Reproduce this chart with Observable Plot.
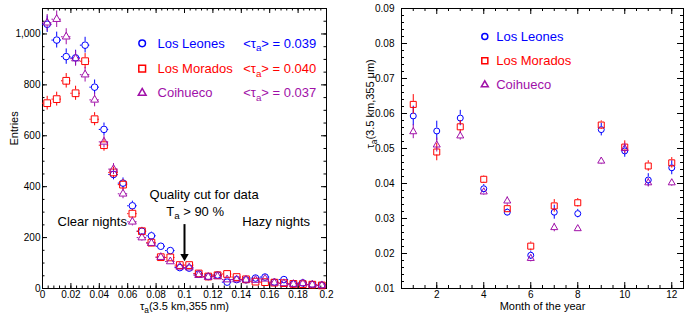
<!DOCTYPE html>
<html><head><meta charset="utf-8">
<script src="https://cdn.jsdelivr.net/npm/d3@7"></script>
<script src="https://cdn.jsdelivr.net/npm/@observablehq/plot@0.6"></script>
<style>
body{margin:0;background:#fff;}
#wrap{position:relative;width:698px;height:320px;overflow:hidden;background:#fff;}
#left,#right{position:absolute;top:0;}
#left{left:0;} #right{left:349px;}
</style></head>
<body><div id="wrap"><div id="left"></div><div id="right"></div></div>
<script>
// ---------- data ----------
const tauBins = [0.0033,0.0100,0.0167,0.0233,0.0300,0.0367,0.0433,0.0500,0.0567,0.0633,
                 0.0700,0.0767,0.0833,0.0900,0.0967,0.1033,0.1100,0.1167,0.1233,0.1300,
                 0.1367,0.1433,0.1500,0.1567,0.1633,0.1700,0.1767,0.1833,0.1900,0.1967];
const binHalfWidth = 0.00333;
const llCounts  = [1038,976,911,906,956,791,625,448,414,325,225,207,166,149,82,80,57,47,53,25,35,34,41,45,25,35,18,22,16,13];
const lmCounts  = [728,744,816,767,893,665,563,456,408,294,225,180,123,122,92,92,59,47,52,57,45,36,27,25,23,21,18,17,15,12];
const coiCounts = [1044,1058,989,903,840,741,576,469,372,262,200,178,123,106,85,82,52,45,47,35,35,34,33,38,22,20,17,20,15,12];

const months = [1,2,3,4,5,6,7,8,9,10,11,12];
const llTau  = [0.0593,0.0550,0.0587,0.0385,0.0318,0.0195,0.0318,0.0314,0.0554,0.0493,0.0410,0.0445];
const lmTau  = [0.0626,0.0490,0.0562,0.0412,0.0328,0.0221,0.0336,0.0345,0.0567,0.0504,0.0450,0.0459];
const coiTau = [0.0548,0.0510,0.0536,0.0376,0.0350,0.0186,0.0274,0.0271,0.0464,0.0500,0.0402,0.0402];
const llErr  = [0.0028,0.0028,0.0022,0.0012,0.0010,0.0012,0.0020,0.0012,0.0018,0.0018,0.0018,0.0020];
const lmErr  = [0.0028,0.0025,0.0018,0.0010,0.0010,0.0012,0.0018,0.0012,0.0012,0.0018,0.0015,0.0015];
const coiErr = [0.0020,0.0020,0.0012,0.0010,0.0012,0.0010,0.0012,0.0008,0.0010,0.0015,0.0012,0.0010];

const seriesNames = ["Los Leones","Los Morados","Coihueco"];
const meanTau = ["0.039","0.040","0.037"];

const xTicksL = [0,0.02,0.04,0.06,0.08,0.1,0.12,0.14,0.16,0.18,0.2];
const yTicksL = [0,200,400,600,800,1000];
const xTicksR = [2,4,6,8,10,12];
const yTicksR = [0.01,0.02,0.03,0.04,0.05,0.06,0.07,0.08,0.09];

// ---------- styles ----------
const FONT = '"Liberation Sans", Arial, Helvetica, sans-serif';
const styles = [
  {color:"#0000ff", symbol:"circle",   r:3.3, gap:3.3, rR:3.0, gapR:3.0},
  {color:"#ff0000", symbol:"square",   r:3.8, gap:3.4, rR:3.4, gapR:3.0},
  {color:"#a010a8", symbol:"triangle", r:2.9, gap:3.0, rR:2.6, gapR:2.8}
];
const countsBySeries = [llCounts, lmCounts, coiCounts];
const tauBySeries = [llTau, lmTau, coiTau];
const errBySeries = [llErr, lmErr, coiErr];

// ---------- left panel ----------
const L = {w:349,h:320,ml:42,mr:23,mt:8,mb:32};
const fwL = L.w-L.ml-L.mr, fhL = L.h-L.mt-L.mb;
const kL = fhL/1100;

const leftMarks = [];
leftMarks.push(Plot.frame({stroke:"#000", strokeWidth:1}));
const xMinL = d3.range(0, 0.2001, 0.004), yMinL = d3.range(0, 1100.1, 50);
leftMarks.push(
  Plot.tickX(xMinL, {x:d=>d, insetTop: fhL-2.5, stroke:"#000"}),
  Plot.tickX(xMinL, {x:d=>d, insetBottom: fhL-2.5, stroke:"#000"}),
  Plot.tickX(xTicksL, {x:d=>d, insetTop: fhL-5, stroke:"#000"}),
  Plot.tickX(xTicksL, {x:d=>d, insetBottom: fhL-5, stroke:"#000"}),
  Plot.tickY(yMinL, {y:d=>d, insetRight: fwL-2.5, stroke:"#000"}),
  Plot.tickY(yMinL, {y:d=>d, insetLeft: fwL-2.5, stroke:"#000"}),
  Plot.tickY(yTicksL, {y:d=>d, insetRight: fwL-5, stroke:"#000"}),
  Plot.tickY(yTicksL, {y:d=>d, insetLeft: fwL-5, stroke:"#000"})
);
styles.forEach((s, si) => {
  const rows = tauBins.map((t,i)=>({t, n: countsBySeries[si][i], e: Math.sqrt(countsBySeries[si][i])}));
  const big = rows.filter(d => d.e*kL > s.gap);
  leftMarks.push(
    Plot.ruleX(big, {x:"t", y1:d=>d.n+d.e, y2:"n", insetBottom:s.gap, stroke:s.color}),
    Plot.ruleX(big, {x:"t", y1:"n", y2:d=>d.n-d.e, insetTop:s.gap, stroke:s.color}),
    Plot.ruleY(rows, {y:"n", x1:d=>d.t-binHalfWidth, x2:"t", insetRight:s.gap, stroke:s.color}),
    Plot.ruleY(rows, {y:"n", x1:"t", x2:d=>d.t+binHalfWidth, insetLeft:s.gap, stroke:s.color}),
    Plot.dot(rows, {x:"t", y:"n", symbol:s.symbol, r:s.r, stroke:s.color, fill:"none", strokeWidth:1})
  );
});
// legend (left)
const legYL = [963, 864, 768];
styles.forEach((s, si) => {
  leftMarks.push(
    Plot.dot([0], {x:()=>0.0702, y:()=>legYL[si], symbol:s.symbol, r:s.r, stroke:s.color, fill:"none"}),
    Plot.text([seriesNames[si]], {x:()=>0.081, y:()=>legYL[si], text:d=>d, fill:s.color, textAnchor:"start", fontSize:13}),
    Plot.text(["<τ_a> = " + meanTau[si]], {x:()=>0.1413, y:()=>legYL[si], text:d=>d, fill:s.color, textAnchor:"start", fontSize:13})
  );
});
// annotations
leftMarks.push(
  Plot.text(["Clear nights"], {x:()=>0.0106, y:()=>263, text:d=>d, textAnchor:"start", fontSize:13, fill:"#000"}),
  Plot.text(["Hazy nights"], {x:()=>0.1406, y:()=>263, text:d=>d, textAnchor:"start", fontSize:13, fill:"#000"}),
  Plot.text(["Quality cut for data"], {x:()=>0.0754, y:()=>369, text:d=>d, textAnchor:"start", fontSize:13, fill:"#000"}),
  Plot.text(["T_a > 90 %"], {x:()=>0.0871, y:()=>303, text:d=>d, textAnchor:"start", fontSize:13, fill:"#000"}),
  Plot.ruleX([0.1], {x:d=>d, y1:()=>251, y2:()=>124, stroke:"#000", strokeWidth:2}),
  Plot.dot([0.1], {x:d=>d, y:()=>126, symbol:"triangle2", r:4, rotate:180, fill:"#000", stroke:"none"}),
  Plot.text(["Entries"], {frameAnchor:"left", dx:-28, dy:-3, rotate:-90, text:d=>d, fontSize:11, fill:"#000"}),
  Plot.text(["τ_a(3.5 km,355 nm)"], {frameAnchor:"bottom", dy:21, text:d=>d, fontSize:11, fill:"#000"})
);

const left = Plot.plot({
  width:L.w, height:L.h, marginLeft:L.ml, marginRight:L.mr, marginTop:L.mt, marginBottom:L.mb,
  style:{fontFamily:FONT, fontSize:"10px", background:"#fff", color:"#000"},
  x:{domain:[0,0.2], ticks:xTicksL, tickSize:0, tickPadding:2, tickFormat:d3.format(".2~f"), label:null},
  y:{domain:[0,1100], ticks:yTicksL, tickSize:0, tickPadding:2, label:null},
  marks:leftMarks
});
document.getElementById("left").appendChild(left);

// ---------- right panel ----------
const R = {w:349,h:320,ml:52,mr:15,mt:8,mb:32};
const fwR = R.w-R.ml-R.mr, fhR = R.h-R.mt-R.mb;
const kR = fhR/0.08;
const rightMarks = [Plot.frame({stroke:"#000", strokeWidth:1})];
const xMinR = d3.range(0.5, 12.51, 0.5), yMinR = d3.range(0.01, 0.0901, 0.002);
rightMarks.push(
  Plot.tickX(xMinR, {x:d=>d, insetTop: fhR-3, stroke:"#000"}),
  Plot.tickX(xMinR, {x:d=>d, insetBottom: fhR-3, stroke:"#000"}),
  Plot.tickX(xTicksR, {x:d=>d, insetTop: fhR-6, stroke:"#000"}),
  Plot.tickX(xTicksR, {x:d=>d, insetBottom: fhR-6, stroke:"#000"}),
  Plot.tickY(yMinR, {y:d=>d, insetRight: fwR-3, stroke:"#000"}),
  Plot.tickY(yMinR, {y:d=>d, insetLeft: fwR-3, stroke:"#000"}),
  Plot.tickY(yTicksR, {y:d=>d, insetRight: fwR-6, stroke:"#000"}),
  Plot.tickY(yTicksR, {y:d=>d, insetLeft: fwR-6, stroke:"#000"})
);
styles.forEach((s, si) => {
  const rows = months.map((m,i)=>({m, v: tauBySeries[si][i], e: errBySeries[si][i]}));
  const big = rows.filter(d => d.e*kR > s.gapR);
  rightMarks.push(
    Plot.ruleX(big, {x:"m", y1:d=>d.v+d.e, y2:"v", insetBottom:s.gapR, stroke:s.color}),
    Plot.ruleX(big, {x:"m", y1:"v", y2:d=>d.v-d.e, insetTop:s.gapR, stroke:s.color}),
    Plot.dot(rows, {x:"m", y:"v", symbol:s.symbol, r:s.rR, stroke:s.color, fill:"none", strokeWidth:1})
  );
});
const legYR = [0.0820, 0.0751, 0.0682];
styles.forEach((s, si) => {
  rightMarks.push(
    Plot.dot([0], {x:()=>4.045, y:()=>legYR[si], symbol:s.symbol, r:s.rR, stroke:s.color, fill:"none"}),
    Plot.text([seriesNames[si]], {x:()=>4.53, y:()=>legYR[si], text:d=>d, fill:s.color, textAnchor:"start", fontSize:13})
  );
});
rightMarks.push(
  Plot.text(["τ_a(3.5 km,355 μm)"], {frameAnchor:"left", dx:-31, rotate:-90, text:d=>d, fontSize:11, fill:"#000"}),
  Plot.text(["Month of the year"], {frameAnchor:"bottom", dy:21, text:d=>d, fontSize:11, fill:"#000"})
);
const right = Plot.plot({
  width:R.w, height:R.h, marginLeft:R.ml, marginRight:R.mr, marginTop:R.mt, marginBottom:R.mb,
  style:{fontFamily:FONT, fontSize:"10px", background:"#fff", color:"#000"},
  x:{domain:[0.5,12.5], ticks:xTicksR, tickSize:0, tickPadding:2, label:null},
  y:{domain:[0.01,0.09], ticks:yTicksR, tickSize:0, tickPadding:7, tickFormat:d3.format(".2f"), label:null},
  marks:rightMarks
});
document.getElementById("right").appendChild(right);

// ---------- subscript "a" rendering ----------
function subscripts(svg){
  const ns = "http://www.w3.org/2000/svg";
  const els = [...svg.querySelectorAll("text, tspan")].filter(el => el.children.length === 0 && el.textContent.includes("_a"));
  els.forEach(el => {
    const parts = el.textContent.split("_a");
    el.textContent = "";
    parts.forEach((p, i) => {
      if (i > 0) {
        const sub = document.createElementNS(ns, "tspan");
        sub.setAttribute("dy", "0.4em");
        sub.setAttribute("font-size", "75%");
        sub.textContent = "a";
        el.appendChild(sub);
        const rest = document.createElementNS(ns, "tspan");
        rest.setAttribute("dy", "-0.3em");
        rest.textContent = p;
        el.appendChild(rest);
      } else {
        el.appendChild(document.createTextNode(p));
      }
    });
  });
}
subscripts(left); subscripts(right);
</script>
</body></html>
